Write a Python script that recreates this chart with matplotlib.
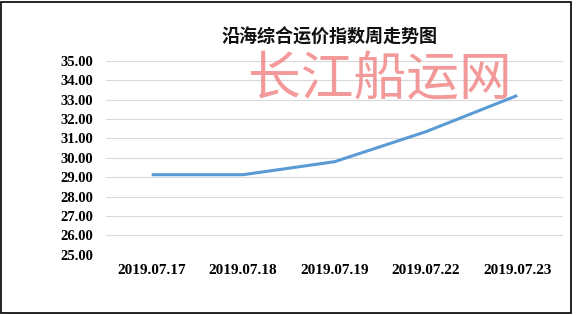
import matplotlib
matplotlib.use('Agg')
import matplotlib.pyplot as plt
from matplotlib.patches import Rectangle

dates = ['2019.07.17', '2019.07.18', '2019.07.19', '2019.07.22', '2019.07.23']
index_values = [29.13, 29.13, 29.80, 31.35, 33.22]
y_ticks = [25, 26, 27, 28, 29, 30, 31, 32, 33, 34, 35]

plt.rcParams['font.family'] = ['Noto Sans CJK SC', 'DejaVu Sans']

fig = plt.figure(figsize=(5.76, 3.15), dpi=100)
ax = fig.add_axes([106 / 576, 1 - 254.7 / 315, 457 / 576, 193.7 / 315])

x = range(len(dates))
ax.plot(x, index_values, color='#5b9bd5', linewidth=2.2, solid_capstyle='butt', zorder=3)

ax.set_xlim(-0.5, len(dates) - 0.5)
ax.set_ylim(25, 35)
ax.set_yticks(y_ticks)
ax.set_yticklabels(['%.2f' % v for v in y_ticks])
ax.set_xticks(list(x))
ax.set_xticklabels(dates)
for lbl in ax.get_yticklabels():
    lbl.set_family('Liberation Serif')
    lbl.set_fontweight('bold')
    lbl.set_fontsize(10.5)
for lbl in ax.get_xticklabels():
    lbl.set_family('Liberation Serif')
    lbl.set_fontweight('bold')
    lbl.set_fontsize(11)
ax.tick_params(axis='y', length=0, pad=9)
ax.tick_params(axis='x', length=0, pad=7)
ax.grid(axis='y', color='#d9d9d9', linewidth=0.8)
ax.set_axisbelow(True)
for s in ax.spines.values():
    s.set_visible(False)

fig.text(330 / 576, 1 - 37 / 315, '沿海综合运价指数周走势图', ha='center', va='center',
         fontsize=13, fontweight='bold', color='#111111')

# watermark
fig.text(380 / 576, 1 - 80 / 315, '长江船运网', ha='center', va='center',
         fontsize=38, color='#f08080', alpha=0.8, zorder=5)

fig.patches.append(Rectangle((1 / 576, 2 / 315), 570 / 576, 311 / 315,
                             transform=fig.transFigure, fill=False,
                             edgecolor='black', linewidth=1.2))

fig.savefig('out.png', dpi=100)
